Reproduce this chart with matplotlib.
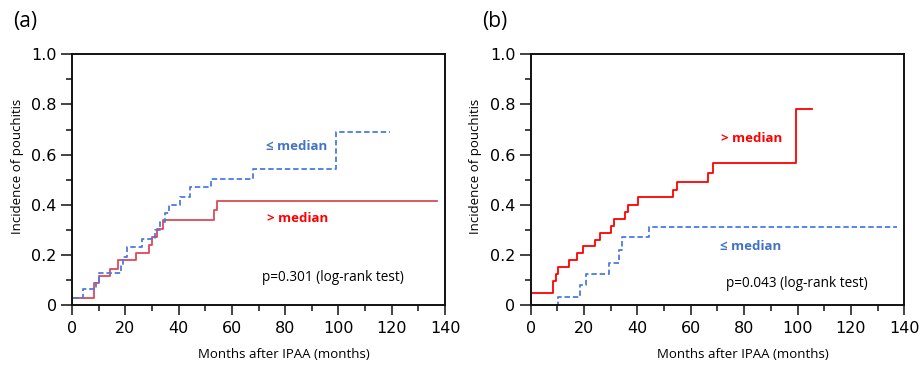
import matplotlib.pyplot as plt
from matplotlib.ticker import MultipleLocator

# data (months, cumulative incidence)
a_hi_t = [0, 0, 8.3, 10.2, 14.4, 17.4, 24.1, 29.0, 29.9, 32.0, 34.1, 53.2, 54.4, 136.9]
a_hi_v = [0, 0.028, 0.087, 0.116, 0.146, 0.181, 0.21, 0.24, 0.273, 0.305, 0.338, 0.378, 0.415, 0.415]
a_lo_t = [0, 0, 4.0, 9.1, 10.1, 18.4, 19.2, 20.8, 26.1, 31.0, 33.0, 34.8, 36.3, 40.5, 44.3, 52.3, 67.9, 99.0, 119.4]
a_lo_v = [0, 0.028, 0.063, 0.092, 0.127, 0.16, 0.194, 0.231, 0.264, 0.30, 0.333, 0.368, 0.40, 0.432, 0.472, 0.503, 0.542, 0.69, 0.69]

b_hi_t = [0, 0, 8.3, 9.4, 10.3, 14.5, 17.4, 19.6, 24.1, 26.0, 30.1, 31.1, 35.4, 36.4, 40.3, 53.5, 54.7, 66.3, 68.4, 99.3, 105.4]
b_hi_v = [0, 0.048, 0.097, 0.125, 0.154, 0.182, 0.21, 0.237, 0.258, 0.286, 0.315, 0.343, 0.37, 0.40, 0.432, 0.46, 0.492, 0.528, 0.565, 0.782, 0.782]
b_lo_t = [0, 10.3, 18.5, 20.9, 29.2, 33.1, 34.4, 44.4, 137.4]
b_lo_v = [0, 0.034, 0.08, 0.125, 0.17, 0.22, 0.27, 0.313, 0.313]

ytick_vals = [0, 0.2, 0.4, 0.6, 0.8, 1.0]
ytick_labels = ['0', '0.2', '0.4', '0.6', '0.8', '1.0']
xtick_vals = [0, 20, 40, 60, 80, 100, 120, 140]

blue_line = '#4b7be0'
blue_txt = '#4472c4'

fig = plt.figure(figsize=(9.21, 3.65), dpi=100)
ax_a = fig.add_axes([0.0782, 0.1636, 0.405, 0.688])
ax_b = fig.add_axes([0.5762, 0.1636, 0.4056, 0.688])

lbl_font = 'Open Sans'
tick_font = ['DejaVu Sans Condensed', 'DejaVu Sans']


def setup(ax, letter, letter_x):
    ax.set_xlim(0, 140)
    ax.set_ylim(0, 1.0)
    ax.set_xticks(xtick_vals)
    ax.set_xticklabels([str(v) for v in xtick_vals], family=tick_font, fontsize=11.5)
    ax.set_yticks(ytick_vals)
    ax.set_yticklabels(ytick_labels, family=tick_font, fontsize=11.5, va='center_baseline')
    ax.xaxis.set_minor_locator(MultipleLocator(10))
    ax.yaxis.set_minor_locator(MultipleLocator(0.1))
    ax.tick_params(which='major', length=7, width=1.2, pad=4, color='#222222')
    ax.tick_params(axis='y', which='major', length=8, pad=3)
    ax.tick_params(which='minor', length=4, width=1.2, color='#222222')
    for s in ax.spines.values():
        s.set_linewidth(1.4)
        s.set_color('#111111')
    ax.set_xlabel('Months after IPAA (months)', family=lbl_font, fontsize=9.5, va='center')
    ax.xaxis.set_label_coords(0.567, -0.194)
    ax.set_ylabel('Incidence of pouchitis', family=lbl_font, fontsize=9.5)
    ax.yaxis.set_label_coords(-0.13, 0.555)
    fig.text(letter_x, 0.94, letter, family=lbl_font, fontsize=15, va='center')


setup(ax_a, '(a)', 0.0141)
setup(ax_b, '(b)', 0.5233)

# panel (a)
ax_a.step(a_hi_t, a_hi_v, where='post', color='#dc4a5a', lw=1.3)
ax_a.step(a_lo_t, a_lo_v, where='post', color=blue_line, lw=1.3, dashes=(3, 1.6))
ax_a.text(72.8, 0.634, '≤ median', color=blue_txt, fontweight='bold', family=lbl_font, fontsize=9.5, va='center')
ax_a.text(73.2, 0.347, '> median', color='#ff0000', fontweight='bold', family=lbl_font, fontsize=9.5, va='center')
ax_a.text(71.3, 0.109, 'p=0.301 (log-rank test)', family=lbl_font, fontsize=9.8, va='center')

# panel (b)
ax_b.step(b_hi_t, b_hi_v, where='post', color='#ff0000', lw=1.3)
ax_b.step(b_lo_t, b_lo_v, where='post', color=blue_line, lw=1.3, dashes=(3, 1.6))
ax_b.text(71.2, 0.666, '> median', color='#ff0000', fontweight='bold', family=lbl_font, fontsize=9.5, va='center')
ax_b.text(70.9, 0.236, '≤ median', color=blue_txt, fontweight='bold', family=lbl_font, fontsize=9.5, va='center')
ax_b.text(73.1, 0.085, 'p=0.043 (log-rank test)', family=lbl_font, fontsize=9.8, va='center')

fig.savefig('out.png', dpi=100)
